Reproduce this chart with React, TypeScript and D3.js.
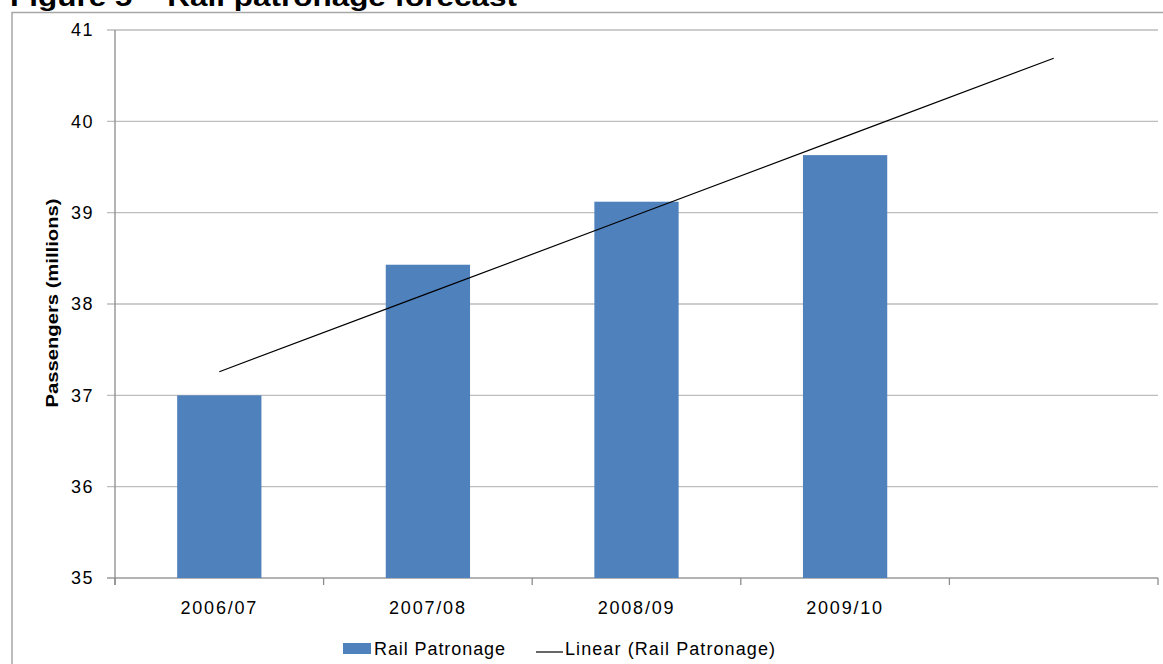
import React from "react";
import * as d3 from "d3";

const categories = ["2006/07", "2007/08", "2008/09", "2009/10", ""];
const patronage = [37.0, 38.43, 39.12, 39.63];
const yTicks = [35, 36, 37, 38, 39, 40, 41];
const title = "Figure 5 \u2013 Rail patronage forecast";
const yLabel = "Passengers (millions)";
const legendBar = "Rail Patronage";
const legendLine = "Linear (Rail Patronage)";

const W = 1163;
const H = 664;
const M = { left: 115, right: 1158, top: 30, bottom: 578 };

export default function App() {
  const x = d3.scaleBand<string>().domain(categories.map((c, i) => String(i))).range([M.left, M.right]).paddingInner(0).paddingOuter(0);
  const y = d3.scaleLinear().domain([35, 41]).range([M.bottom, M.top]);
  const bw = x.bandwidth();
  const barW = bw * 0.404;

  // linear trend (least squares) over the bar series, projected to all categories
  const xs = patronage.map((_, i) => i + 1);
  const mx = d3.mean(xs) as number;
  const my = d3.mean(patronage) as number;
  const slope = d3.sum(xs.map((xi, i) => (xi - mx) * (patronage[i] - my))) / d3.sum(xs.map((xi) => (xi - mx) ** 2));
  const icpt = my - slope * mx;
  const trend = categories.map((_, i) => ({ i, v: icpt + slope * (i + 1) }));
  const line = d3
    .line<{ i: number; v: number }>()
    .x((d) => (x(String(d.i)) as number) + bw / 2)
    .y((d) => y(d.v));

  const font = "Arial, 'Liberation Sans', Helvetica, sans-serif";
  const boundaries = d3.range(categories.length + 1).map((i) => M.left + i * bw);

  return (
    <svg width={W} height={H} style={{ position: "absolute", left: 0, top: 0, background: "#fff" }} fontFamily={font}>
      <rect x={12} y={12.5} width={W + 20} height={H + 20} fill="#fff" stroke="#a6a6a6" strokeWidth={1.5} />
      <text x={10} y={6} fontSize={26} fontWeight="bold" textLength={507} lengthAdjust="spacingAndGlyphs" fill="#000">
        {title}
      </text>
      {yTicks.map((t) => (
        <g key={t}>
          <line x1={M.left - 8} x2={M.right} y1={y(t)} y2={y(t)} stroke={t === 35 ? "#9a9a9a" : "#bdbdbd"} strokeWidth={1.3} />
          <text x={94} y={y(t)} dy="0.35em" fontSize={18} letterSpacing={1.5} textAnchor="end" fill="#000">
            {t}
          </text>
        </g>
      ))}
      <line x1={M.left} x2={M.left} y1={M.top} y2={M.bottom + 7} stroke="#8c8c8c" strokeWidth={1.3} />
      {boundaries.map((bx, i) => (
        <line key={i} x1={bx} x2={bx} y1={M.bottom} y2={M.bottom + 7} stroke="#8c8c8c" strokeWidth={1.3} />
      ))}
      {patronage.map((v, i) => (
        <rect key={i} x={(x(String(i)) as number) + (bw - barW) / 2} y={y(v)} width={barW} height={y(35) - y(v)} fill="#4f81bd" />
      ))}
      <path d={line(trend) || ""} fill="none" stroke="#000" strokeWidth={1.2} />
      {categories.map((c, i) => (
        <text key={i} x={(x(String(i)) as number) + bw / 2} y={614} fontSize={18} letterSpacing={1.8} textAnchor="middle" fill="#000">
          {c}
        </text>
      ))}
      <text transform={`translate(58,${(M.top + M.bottom) / 2 - 1}) rotate(-90)`} fontSize={17} fontWeight="bold" textAnchor="middle" textLength={209} lengthAdjust="spacingAndGlyphs" fill="#000">
        {yLabel}
      </text>
      <rect x={343} y={643} width={28} height={11} fill="#4f81bd" />
      <text x={374} y={655} fontSize={18} textLength={131} lengthAdjust="spacing" fill="#000">
        {legendBar}
      </text>
      <line x1={536} x2={563} y1={652} y2={652} stroke="#000" strokeWidth={1.2} />
      <text x={565} y={655} fontSize={18} textLength={210} lengthAdjust="spacing" fill="#000">
        {legendLine}
      </text>
    </svg>
  );
}
